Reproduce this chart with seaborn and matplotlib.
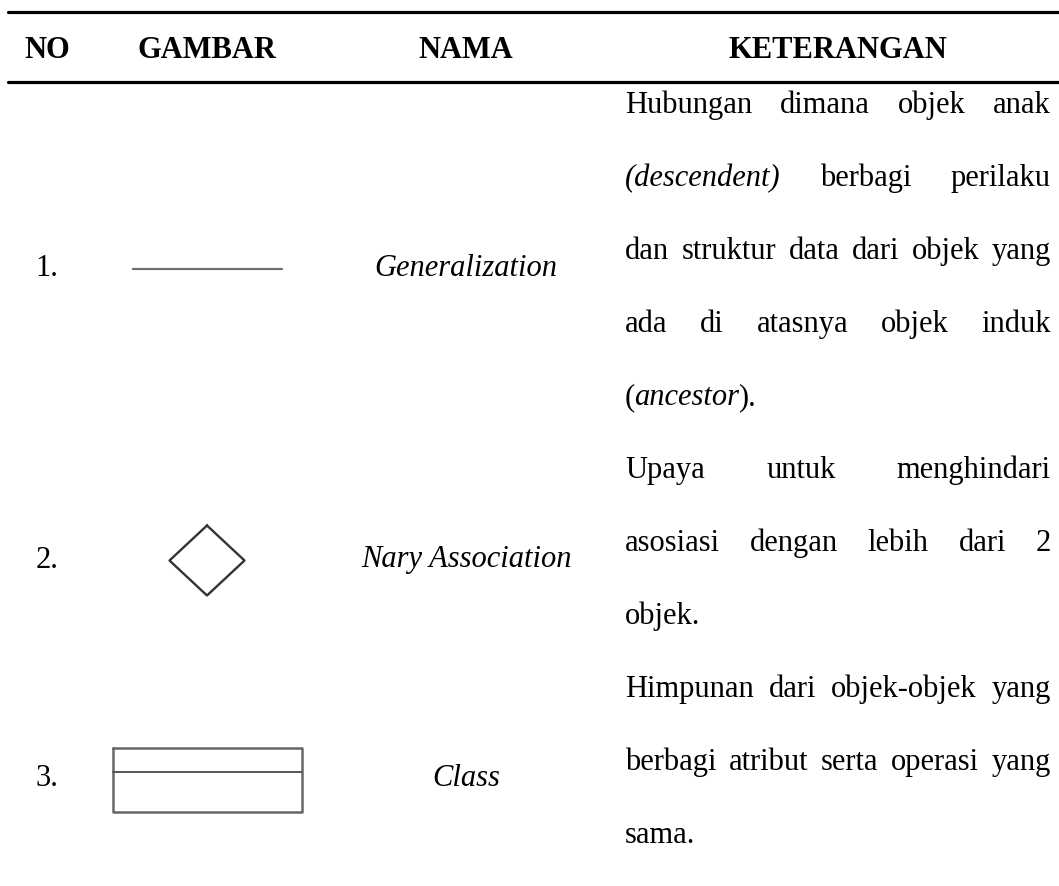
import re
import matplotlib
matplotlib.use("Agg")
import matplotlib.pyplot as plt
import seaborn as sns

# Table content
header = ["NO", "GAMBAR", "NAMA", "KETERANGAN"]
nomor = ["1.", "2.", "3."]
nama = ["Generalization", "Nary Association", "Class"]
simbol = ["line", "diamond", "class"]
# *...* marks italic parts
keterangan = [
    ["Hubungan dimana objek anak",
     "*(descendent)* berbagi perilaku",
     "dan struktur data dari objek yang",
     "ada di atasnya objek induk",
     "(*ancestor*)."],
    ["Upaya untuk menghindari",
     "asosiasi dengan lebih dari 2",
     "objek."],
    ["Himpunan dari objek-objek yang",
     "berbagi atribut serta operasi yang",
     "sama."],
]

# layout (pixels)
W, H = 1059, 886
col_x = [47, 207, 466, 838]
text_left, text_right = 625, 1051
rule_top, rule_head = 12, 82
line_h = 73
fs = 22

sns.set_theme(style="white")
plt.rcParams["font.family"] = ["Liberation Serif", "DejaVu Serif"]

fig, ax = plt.subplots(figsize=(W / 100, H / 100), dpi=100)
ax.set_position([0, 0, 1, 1])
ax.set_xlim(0, W)
ax.set_ylim(H, 0)
ax.axis("off")
renderer = fig.canvas.get_renderer()

# horizontal rules
for y in (rule_top, rule_head):
    sns.lineplot(x=[8, W], y=[y, y], color="black", lw=2.3, ax=ax)

# header row
for x, h in zip(col_x, header):
    ax.text(x, (rule_top + rule_head) / 2 + 11, h, ha="center", va="baseline",
            fontsize=fs, fontweight="bold", color="black")


def draw_line(y, line, justify):
    words = []
    for w in line.split(" "):
        parts = [p for p in re.split(r"(\*[^*]+\*)", w) if p]
        segs = []
        for p in parts:
            it = p.startswith("*")
            t = ax.text(0, y, p.strip("*"), fontsize=fs, va="baseline", ha="left",
                        style="italic" if it else "normal", color="black")
            segs.append([t, t.get_window_extent(renderer).width])
        words.append(segs)
    seg_gap = -1.0
    widths = [sum(s[1] for s in segs) + seg_gap * (len(segs) - 1) for segs in words]
    if justify and len(words) > 1:
        gap = (text_right - text_left - sum(widths)) / (len(words) - 1)
    else:
        gap = 9.5
    x = text_left
    for segs, wd in zip(words, widths):
        xx = x
        for t, sw in segs:
            t.set_x(xx)
            xx += sw + seg_gap
        x += wd + gap


def draw_symbol(kind, cx, cy):
    kw = dict(ax=ax, sort=False, estimator=None, legend=False)
    if kind == "line":
        half = 74.5
        sns.lineplot(x=[cx - half, cx + half], y=[cy, cy], color="#6f6f6f", lw=1.6, **kw)
    elif kind == "diamond":
        hw, hh = 37.5, 35
        xs = [cx, cx + hw, cx, cx - hw, cx]
        ys = [cy - hh, cy, cy + hh, cy, cy - hh]
        sns.lineplot(x=xs, y=ys, color="#333333", lw=1.7, **kw)
    elif kind == "class":
        bw, bh, div = 189, 64, 24
        x0, x1 = cx - bw / 2, cx + bw / 2
        y0, y1 = cy - bh / 2, cy + bh / 2
        sns.lineplot(x=[x0, x1, x1, x0, x0], y=[y0, y0, y1, y1, y0],
                     color="#666666", lw=1.8, **kw)
        sns.lineplot(x=[x0, x1], y=[y0 + div, y0 + div], color="#555555", lw=1.4, **kw)


line_no = 0
for r in range(len(nomor)):
    n_lines = len(keterangan[r])
    top = rule_head + line_h * line_no
    center = top + n_lines * line_h / 2
    ax.text(col_x[0], center + 11, nomor[r], ha="center", va="baseline",
            fontsize=fs, color="black")
    ax.text(col_x[2], center + 11, nama[r], ha="center", va="baseline",
            fontsize=fs, style="italic", color="black")
    draw_symbol(simbol[r], col_x[1], center + 4)
    for i, ln in enumerate(keterangan[r]):
        y = rule_head + line_h * (line_no + i) + 31
        draw_line(y, ln, justify=(i < n_lines - 1))
    line_no += n_lines

fig.savefig("out.png", dpi=100)
